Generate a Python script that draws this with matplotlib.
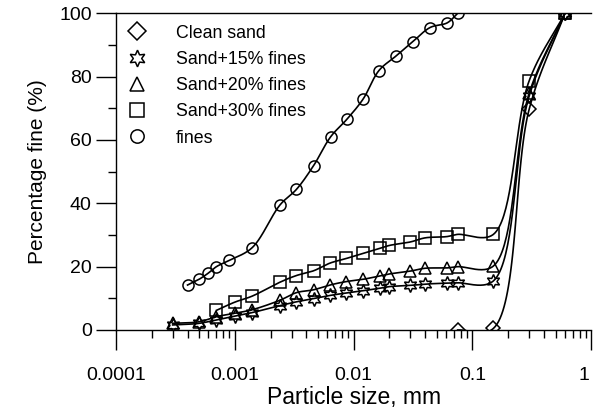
import numpy as np
import matplotlib
matplotlib.use('Agg')
import matplotlib.pyplot as plt
from matplotlib.transforms import ScaledTranslation

plt.rcParams['font.family'] = ['Liberation Sans', 'DejaVu Sans']

# grain sizes (mm)
sieve = [0.075, 0.15, 0.3, 0.6]
hydro_mix = [0.0003, 0.0005, 0.0007, 0.001, 0.0014, 0.0024, 0.0033, 0.0046,
             0.0063, 0.0087, 0.012, 0.0167, 0.020, 0.030, 0.040, 0.061]

clean_x = sieve
clean_y = [0.0, 0.5, 69.7, 100]

f15_x = hydro_mix + sieve
f15_y = [1.6, 2.1, 3.2, 4.4, 5.5, 7.7, 8.9, 9.9, 10.9, 11.7, 12.4, 13.2, 13.7,
         14.1, 14.5, 14.8, 14.9, 15.5, 73.9, 100]

f20_x = hydro_mix + sieve
f20_y = [2.1, 2.6, 4.2, 5.3, 6.4, 9.4, 11.8, 12.7, 14.2, 15.3, 16.0, 17.1, 17.7,
         18.6, 19.5, 19.6, 20.0, 20.2, 74.8, 100]

f30_x = hydro_mix[2:] + sieve
f30_y = [6.2, 8.8, 10.7, 15.1, 17.2, 18.7, 21.1, 22.6, 24.2, 25.8, 26.7, 27.8,
         29.1, 29.5, 30.2, 30.2, 78.7, 100]

fines_x = [0.0004, 0.0005, 0.0006, 0.0007, 0.0009, 0.0014, 0.0024, 0.0033,
           0.0046, 0.0064, 0.0088, 0.012, 0.0163, 0.0227, 0.0314, 0.0439,
           0.0614, 0.075]
fines_y = [14.2, 16.0, 18.0, 20.0, 22.0, 26.0, 39.5, 44.4, 51.9, 61.0, 66.6,
           72.9, 81.9, 86.5, 91.0, 95.5, 97.0, 100]

labels = ['Clean sand', 'Sand+15% fines', 'Sand+20% fines', 'Sand+30% fines', 'fines']
markers = ['D', (6, 1, 0), '^', 's', 'o']
msizes = [7.5, 10, 8.5, 8, 8]


def smooth(xs, ys, n=40):
    """centripetal catmull-rom through the points, worked out in screen-like units"""
    u = (np.log10(xs) + 4) * 118.8
    v = np.asarray(ys, dtype=float) * 3.167
    P = np.column_stack([u, v])
    P = np.vstack([2 * P[0] - P[1], P, 2 * P[-1] - P[-2]])
    out = []
    for i in range(1, len(P) - 2):
        p0, p1, p2, p3 = P[i - 1], P[i], P[i + 1], P[i + 2]
        t0 = 0.0
        t1 = t0 + np.linalg.norm(p1 - p0) ** 0.5
        t2 = t1 + np.linalg.norm(p2 - p1) ** 0.5
        t3 = t2 + np.linalg.norm(p3 - p2) ** 0.5
        t = np.linspace(t1, t2, n)[:, None]
        a1 = (t1 - t) / (t1 - t0) * p0 + (t - t0) / (t1 - t0) * p1
        a2 = (t2 - t) / (t2 - t1) * p1 + (t - t1) / (t2 - t1) * p2
        a3 = (t3 - t) / (t3 - t2) * p2 + (t - t2) / (t3 - t2) * p3
        b1 = (t2 - t) / (t2 - t0) * a1 + (t - t0) / (t2 - t0) * a2
        b2 = (t3 - t) / (t3 - t1) * a2 + (t - t1) / (t3 - t1) * a3
        c = (t2 - t) / (t2 - t1) * b1 + (t - t1) / (t2 - t1) * b2
        out.append(c)
    c = np.vstack(out)
    return 10 ** (c[:, 0] / 118.8 - 4), c[:, 1] / 3.167


fig = plt.figure(figsize=(5.93, 4.12), dpi=100)
ax = fig.add_axes([116 / 593, 82 / 412, 475.3 / 593, 316.7 / 412])

series = [(clean_x, clean_y), (f15_x, f15_y), (f20_x, f20_y), (f30_x, f30_y), (fines_x, fines_y)]
for (sx, sy), lab, mk, ms in zip(series, labels, markers, msizes):
    cx, cy = smooth(sx, sy)
    ax.plot(cx, cy, color='black', lw=1.2, zorder=2)
    ax.plot(sx, sy, ls='none', marker=mk, ms=ms, mfc='none', mec='black',
            mew=1.1, label=lab, zorder=3)

ax.set_xscale('log')
ax.set_xlim(0.0001, 1)
ax.set_ylim(0, 100)
ax.set_xticks([0.0001, 0.001, 0.01, 0.1, 1])
ax.set_xticklabels(['0.0001', '0.001', '0.01', '0.1', '1'])
ax.xaxis.set_minor_locator(matplotlib.ticker.LogLocator(base=10, subs=np.arange(2, 10), numticks=20))
ax.xaxis.set_minor_formatter(matplotlib.ticker.NullFormatter())
ax.set_yticks([0, 20, 40, 60, 80, 100])
ax.set_yticks([10, 30, 50, 70, 90], minor=True)

ax.tick_params(which='major', direction='out', length=14.5, width=1, labelsize=14)
ax.tick_params(which='minor', direction='out', length=6, width=1)
ax.tick_params(axis='x', which='major', pad=12)
ax.tick_params(axis='y', which='major', pad=3)

# the "1" at the far right sits against the edge, nudge it in a bit
last = ax.get_xticklabels()[-1]
last.set_transform(last.get_transform() + ScaledTranslation(-5 / 72, 0, fig.dpi_scale_trans))

ax.spines['right'].set_visible(False)
for s in ['top', 'left', 'bottom']:
    ax.spines[s].set_linewidth(1)

ax.set_xlabel('Particle size, mm', fontsize=16.5, labelpad=1.5)
ax.set_ylabel('Percentage fine (%)', fontsize=15, labelpad=9)

ax.legend(loc='upper left', bbox_to_anchor=(-0.012, 1.015), frameon=False,
          fontsize=12.8, handlelength=1.2, handletextpad=1.6, labelspacing=0.52,
          borderaxespad=0.5, markerscale=1.2)

fig.savefig('out.png', dpi=100)
